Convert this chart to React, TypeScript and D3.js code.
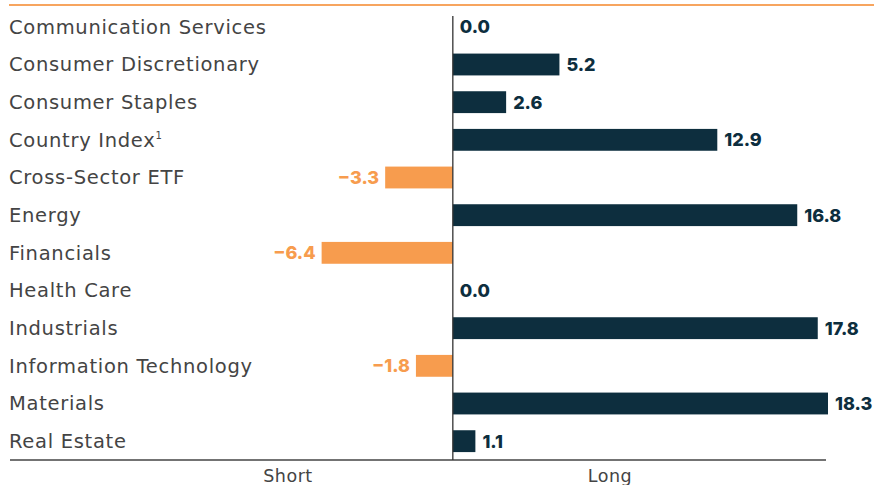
import React from "react";
import * as d3 from "d3";

const categories = [
  "Communication Services",
  "Consumer Discretionary",
  "Consumer Staples",
  "Country Index",
  "Cross-Sector ETF",
  "Energy",
  "Financials",
  "Health Care",
  "Industrials",
  "Information Technology",
  "Materials",
  "Real Estate",
];
const values = [0.0, 5.2, 2.6, 12.9, -3.3, 16.8, -6.4, 0.0, 17.8, -1.8, 18.3, 1.1];
const superscripts = ["", "", "", "1", "", "", "", "", "", "", "", ""];
const axisLabels = ["Short", "Long"];

const W = 874;
const H = 485;
const NAVY = "#0d2e3e";
const ORANGE = "#f79c4e";
const LABEL_FONT = "'DejaVu Sans', sans-serif";
const VALUE_FONT = "Inter, 'Open Sans', sans-serif";

export default function App() {
  const x = d3.scaleLinear().domain([-21.6, 18.3]).range([10, 828]);
  const y = d3
    .scaleBand<string>()
    .domain(categories)
    .range([8, 460])
    .paddingInner(0.42)
    .paddingOuter(0.21);
  const x0 = x(0);
  const bw = y.bandwidth();

  return (
    <svg
      width={W}
      height={H}
      style={{ position: "absolute", left: 0, top: 0, background: "#fff" }}
    >
      <line x1={9} x2={874} y1={5} y2={5} stroke={ORANGE} strokeWidth={2} opacity={0.9} />
      <line x1={10} x2={826} y1={460} y2={460} stroke="#444" strokeWidth={1.3} />
      {categories.map((c, i) => {
        const v = values[i];
        const yc = (y(c) as number) + bw / 2;
        const xa = x(Math.min(0, v));
        const xb = x(Math.max(0, v));
        const neg = v < 0;
        return (
          <g key={c}>
            <text
              x={9}
              y={yc}
              dy="0.35em"
              fontFamily={LABEL_FONT}
              fontSize={19.5}
              letterSpacing={0.7}
              fill="#444"
            >
              {c}
              {superscripts[i] && (
                <tspan fontSize={10} dy="-0.8em" letterSpacing={0}>
                  {superscripts[i]}
                </tspan>
              )}
            </text>
            {v !== 0 && (
              <rect
                x={xa}
                y={y(c)}
                width={xb - xa}
                height={bw}
                fill={neg ? ORANGE : NAVY}
              />
            )}
            <text
              x={neg ? xa - 6 : xb + 7}
              y={yc}
              dy="0.36em"
              textAnchor={neg ? "end" : "start"}
              fontFamily={VALUE_FONT}
              fontWeight={800}
              fontSize={18}
              fill={neg ? ORANGE : NAVY}
            >
              {neg ? "\u2212" + Math.abs(v).toFixed(1) : v.toFixed(1)}
            </text>
          </g>
        );
      })}
      <line x1={x0} x2={x0} y1={16} y2={460} stroke="#333" strokeWidth={1.3} />
      <text x={288} y={476} dy="0.35em" textAnchor="middle" fontFamily={LABEL_FONT} fontSize={17.5} letterSpacing={0.5} fill="#444">
        {axisLabels[0]}
      </text>
      <text x={610} y={476} dy="0.35em" textAnchor="middle" fontFamily={LABEL_FONT} fontSize={17.5} letterSpacing={0.5} fill="#444">
        {axisLabels[1]}
      </text>
    </svg>
  );
}
